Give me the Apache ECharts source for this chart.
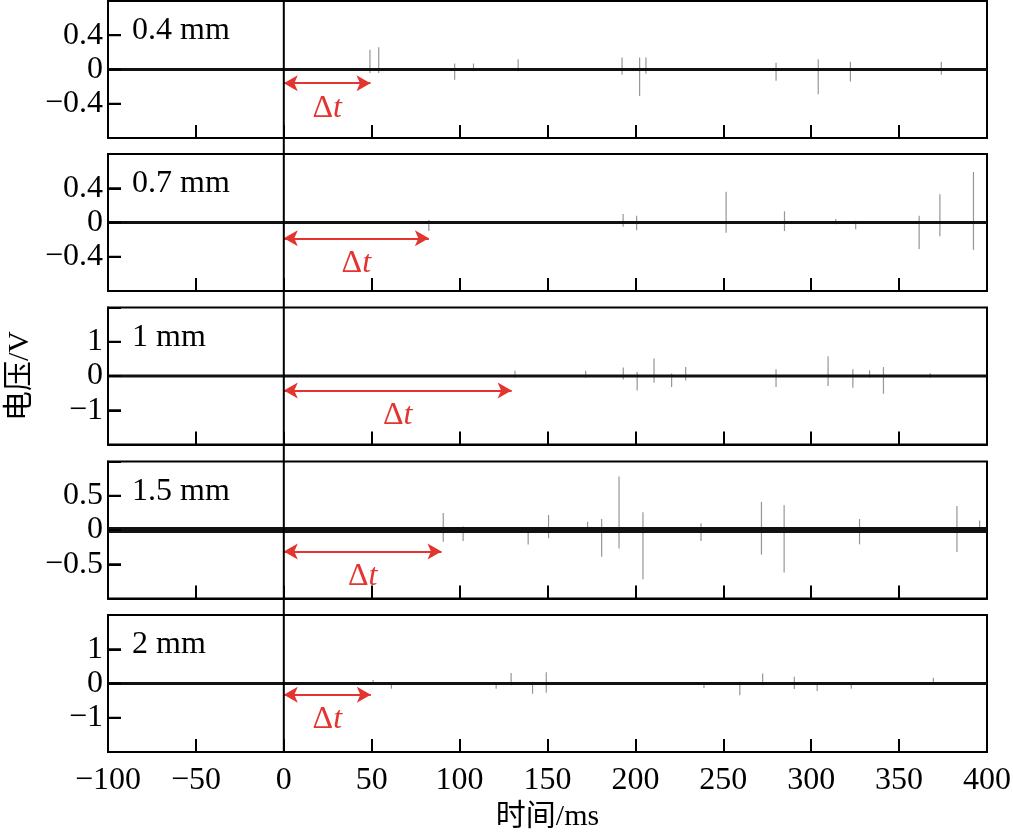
<!DOCTYPE html>
<html>
<head>
<meta charset="utf-8">
<title>电压-时间</title>
<script src="https://cdn.jsdelivr.net/npm/echarts@6/dist/echarts.min.js"></script>
<style>
  html, body { margin: 0; padding: 0; background: #fff; }
  #main { width: 1013px; height: 839px; }
</style>
</head>
<body>
<div id="main"></div>
<script type="text/javascript">
// gap of each panel
var gapNames = ['0.4 mm', '0.7 mm', '1 mm', '1.5 mm', '2 mm'];
// time axis (ms)
var timeMin = -100, timeMax = 400, timeStep = 50;
// voltage axis of each panel (V)
var voltMax = [0.8, 0.8, 2, 1, 2];
var voltStep = [0.4, 0.4, 1, 0.5, 1];
// delay dt (ms) and the voltage level its arrow sits at
var deltaT = [49.3, 82.5, 129.6, 89.7, 49.5];
var arrowLevel = [-0.16, -0.185, -0.42, -0.315, -0.33];
// baseline trace
var baseTime = [-100, 400];
var baseVolt = [0, 0];
// spikes: [time ms, top V, bottom V]
var spikes04 = [[49, 0.23, -0.04], [54, 0.26, -0.04], [97.2, 0.07, -0.12], [107.9, 0.07, -0.02],
    [133.3, 0.12, -0.02], [192.4, 0.14, -0.06], [202.4, 0.14, -0.31], [206, 0.14, -0.05],
    [280, 0.08, -0.13], [304, 0.12, -0.29], [322.3, 0.09, -0.14], [374, 0.09, -0.06]];
var spikes07 = [[82.5, 0.03, -0.1], [193, 0.1, -0.05], [200.7, 0.08, -0.09], [251.6, 0.36, -0.12],
    [284.8, 0.13, -0.1], [314, 0.04, -0.02], [325.3, 0.02, -0.08], [361.4, 0.08, -0.31],
    [373.2, 0.33, -0.16], [392.3, 0.59, -0.32]];
var spikes1 = [[131.5, 0.15, -0.05], [171.7, 0.15, -0.05], [193.1, 0.25, -0.1], [201, 0.12, -0.42],
    [210.6, 0.51, -0.2], [220.6, 0.07, -0.32], [228.6, 0.26, -0.13], [280, 0.2, -0.32],
    [309.6, 0.58, -0.29], [323.7, 0.2, -0.34], [333.2, 0.17, -0.05], [341.1, 0.26, -0.52],
    [367.7, 0.08, -0.05]];
var spikes15 = [[90.7, 0.25, -0.17], [102, 0.05, -0.16], [139, 0.03, -0.21], [150.6, 0.22, -0.12],
    [172.8, 0.12, -0.03], [180.8, 0.16, -0.39], [190.7, 0.78, -0.27], [204.3, 0.26, -0.72],
    [237.3, 0.1, -0.16], [271.7, 0.41, -0.36], [284.6, 0.36, -0.62], [327.5, 0.16, -0.21],
    [382.9, 0.35, -0.32], [395.8, 0.14, -0.03]];
var spikes2 = [[50.8, 0.1, -0.03], [61.2, 0.03, -0.15], [120.8, 0.03, -0.15], [129.3, 0.31, -0.05],
    [141.5, 0.05, -0.3], [149.3, 0.33, -0.27], [239, 0.03, -0.13], [259.4, 0.05, -0.34],
    [272.4, 0.29, -0.05], [290.4, 0.2, -0.16], [303.4, 0.03, -0.22], [322.8, 0.03, -0.15],
    [369.5, 0.17, -0.03]];
var spikeSets = [spikes04, spikes07, spikes1, spikes15, spikes2];

// styling
var FONT = '"Liberation Serif", "Times New Roman", "Noto Sans CJK SC", serif';
var RED = '#e3342f';
var gridTops = [1, 154, 307.5, 461.5, 615];
var baseWidth = [3, 3, 3, 6, 3];
var TICK_LEN = 13;

function minus(v) {
    return String(v).replace('-', '\u2212');
}

var myChart = echarts.init(document.getElementById('main'));

var grids = [], xAxes = [], yAxes = [], series = [];
var baseData = baseTime.map(function (t, k) { return [t, baseVolt[k]]; });

function makeYAxis(i) {
    var vm = voltMax[i];
    return {
        type: 'value', gridIndex: i, min: -vm, max: vm, interval: voltStep[i],
        axisLine: { show: true, onZero: false, lineStyle: { color: '#000', width: 2 } },
        axisTick: { show: true, inside: true, length: TICK_LEN, lineStyle: { color: '#000', width: 2 } },
        splitLine: { show: false },
        axisLabel: {
            color: '#000', fontFamily: FONT, fontSize: 32, margin: 5,
            formatter: function (v) { return Math.abs(v) >= vm - 1e-9 ? '' : minus(v); }
        },
        name: i === 2 ? '电压/V' : '', nameLocation: 'middle', nameGap: 73,
        nameTextStyle: { color: '#000', fontFamily: FONT, fontSize: 30 }
    };
}

for (var i = 0; i < 5; i++) {
    var last = i === 4;
    grids.push({
        left: 108, width: 879, top: gridTops[i], height: 137,
        outerBoundsMode: 'none',
        show: true, borderColor: '#000', borderWidth: 2
    });
    xAxes.push({
        type: 'value', gridIndex: i, min: timeMin, max: timeMax, interval: timeStep,
        axisLine: { show: true, onZero: false, lineStyle: { color: '#000', width: 2 } },
        axisTick: { show: true, inside: true, length: TICK_LEN, lineStyle: { color: '#000', width: 2 } },
        splitLine: { show: false },
        axisLabel: {
            show: last, color: '#000', fontFamily: FONT, fontSize: 32, margin: 13,
            formatter: minus
        },
        name: last ? '时间/ms' : '', nameLocation: 'middle', nameGap: 50,
        nameTextStyle: { color: '#000', fontFamily: FONT, fontSize: 30 }
    });
    yAxes.push(makeYAxis(i));

    series.push({
        type: 'custom', xAxisIndex: i, yAxisIndex: i,
        data: spikeSets[i],
        encode: { x: 0, y: [1, 2] },
        renderItem: function (params, api) {
            var p1 = api.coord([api.value(0), api.value(1)]);
            var p2 = api.coord([api.value(0), api.value(2)]);
            return {
                type: 'line',
                shape: { x1: p1[0], y1: p1[1], x2: p2[0], y2: p2[1] },
                style: { stroke: '#969696', lineWidth: 1.2 }
            };
        },
        silent: true, z: 2
    });
    series.push({
        type: 'line', xAxisIndex: i, yAxisIndex: i,
        data: baseData, showSymbol: false, silent: true, z: 3,
        lineStyle: { color: '#111', width: baseWidth[i] },
        markLine: {
            silent: true,
            symbol: ['arrow', 'arrow'],
            symbolSize: [12, 14],
            lineStyle: { color: RED, width: 2, type: 'solid' },
            label: {
                show: true, position: 'insideMiddleBottom', distance: 9,
                formatter: '{a|\u0394}{b|t}',
                rich: {
                    a: { color: RED, fontFamily: FONT, fontSize: 32 },
                    b: { color: RED, fontFamily: FONT, fontSize: 32, fontStyle: 'italic' }
                }
            },
            data: [[{ coord: [0, arrowLevel[i]] }, { coord: [deltaT[i], arrowLevel[i]] }]]
        }
    });
}

var option = {
    animation: false,
    backgroundColor: '#fff',
    grid: grids,
    xAxis: xAxes,
    yAxis: yAxes,
    series: series
};
myChart.setOption(option);

// vertical line at t = 0 through all panels, gap labels and the inward voltage ticks
var top0 = myChart.convertToPixel({ gridIndex: 0 }, [0, voltMax[0]]);
var bot4 = myChart.convertToPixel({ gridIndex: 4 }, [0, -voltMax[4]]);
var graphics = [{
    type: 'line', z: 10,
    shape: { x1: top0[0], y1: top0[1], x2: bot4[0], y2: bot4[1] },
    style: { stroke: '#000', lineWidth: 2 }
}];
for (var j = 0; j < 5; j++) {
    var corner = myChart.convertToPixel({ gridIndex: j }, [timeMin, voltMax[j]]);
    graphics.push({
        type: 'text', z: 10,
        style: {
            text: gapNames[j], x: corner[0] + 24, y: corner[1] + 30,
            fontFamily: FONT, fontSize: 32, fill: '#000', verticalAlign: 'middle'
        }
    });
    for (var v = -voltMax[j] + voltStep[j]; v < voltMax[j] - 1e-9; v += voltStep[j]) {
        var p = myChart.convertToPixel({ gridIndex: j }, [timeMin, v]);
        graphics.push({
            type: 'rect', z: 100, zlevel: 1,
            shape: { x: p[0], y: p[1] - 1, width: TICK_LEN, height: 2 },
            style: { fill: '#000' }
        });
    }
}
myChart.setOption({ graphic: graphics });
</script>
</body>
</html>
